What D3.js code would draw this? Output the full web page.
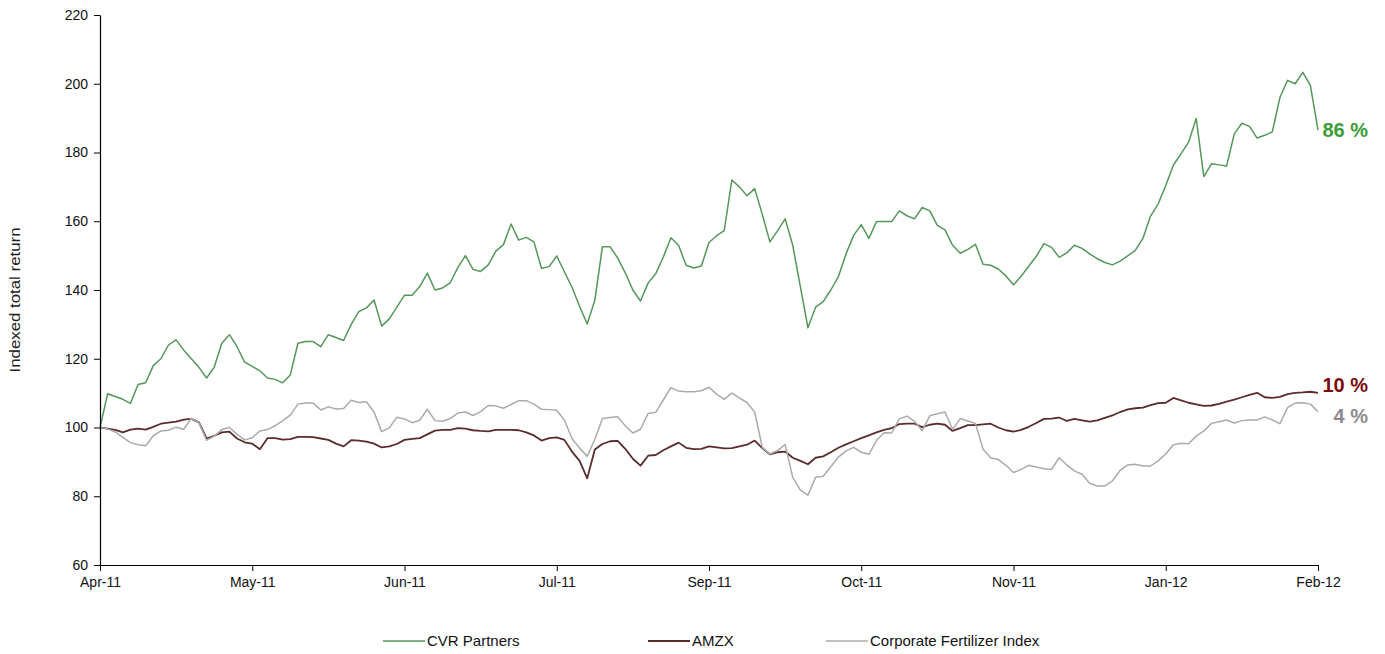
<!DOCTYPE html>
<html><head><meta charset="utf-8">
<script src="https://cdn.jsdelivr.net/npm/d3@7"></script>
<style>
body{margin:0;background:#fff;}
svg{display:block;}
text{font-family:"Liberation Sans",Arial,sans-serif;}
</style>
</head><body>
<svg id="c" width="1385" height="654"></svg>
<script>
// ---- data ----
const tickLabels = ["Apr-11","May-11","Jun-11","Jul-11","Sep-11","Oct-11","Nov-11","Jan-12","Feb-12"];
const tickEvery = 20; // points between labelled ticks
const yTicks = [60,80,100,120,140,160,180,200,220];
const seriesNames = ["CVR Partners","AMZX","Corporate Fertilizer Index"];
const endLabels = ["86 %","10 %","4 %"];

const cvr = [
100,109.8,109,108.2,107,112.5,113,118,120,124,
125.5,122.5,120,117.5,114.4,117.5,124.5,127,123.5,119,
117.8,116.5,114.4,114,113,115.3,124.5,125,125,123.5,
127,126.2,125.3,130,133.7,134.8,137.1,129.5,131.6,135,
138.5,138.5,141,144.9,140,140.6,142.1,146.5,150,146,
145.4,147.3,151.3,153.2,159.2,154.5,155.3,154,146.3,146.8,
149.9,145.3,140.8,135.3,130.1,137,152.6,152.6,149.3,145,
140,136.8,142,144.7,149.6,155.2,153,147.2,146.4,147,
153.8,155.8,157.3,172,170,167.4,169.5,162,154,157.2,
160.7,153,141,129,135,136.6,140,143.9,150.5,155.9,
159,155,159.9,159.9,159.9,163,161.6,160.7,164,163,
158.8,157.5,153,150.7,151.8,153.3,147.5,147.2,146.1,144.1,
141.5,144,146.9,149.8,153.5,152.4,149.5,150.8,153,152.1,
150.5,149.1,148,147.3,148.4,149.9,151.5,155,161.5,165,
170.4,176.3,179.6,183,189.9,173,176.7,176.4,176.1,185.4,
188.5,187.6,184.2,185,186,196,201,200,203.3,199.5,186.5];

const amzx = [
100,99.7,99.3,98.6,99.4,99.7,99.4,100.2,101.1,101.4,
101.7,102.3,102.5,101.5,96.8,97.6,98.6,98.8,96.8,95.7,
95.3,93.7,96.9,96.9,96.5,96.6,97.3,97.3,97.2,96.8,
96.4,95.3,94.5,96.3,96.2,95.9,95.3,94.2,94.5,95.2,
96.4,96.7,96.9,98,99.1,99.3,99.3,99.8,99.7,99.2,
99,98.9,99.3,99.3,99.3,99.2,98.6,97.7,96.2,96.9,
97.1,96.4,93,90.3,85.2,93.6,95.2,96,96.1,93.8,
90.9,88.9,91.8,92,93.4,94.5,95.6,94.1,93.7,93.8,
94.5,94.2,93.9,94,94.5,95,96.2,94,92.2,92.8,
93,91.2,90.3,89.3,91.2,91.6,92.8,94.1,95.1,96,
96.9,97.7,98.6,99.3,99.8,101,101.1,101.1,100.1,100.8,
101.1,100.8,99,99.8,100.7,100.7,100.9,101.1,100,99.2,
98.8,99.3,100.2,101.3,102.5,102.6,102.9,101.9,102.5,102.1,
101.7,102.1,102.8,103.5,104.5,105.3,105.6,105.8,106.5,107.1,
107.2,108.6,107.9,107.2,106.7,106.3,106.4,106.9,107.5,108.1,
108.8,109.5,110.1,108.8,108.6,108.9,109.7,110.1,110.2,110.4,110.1];

const corp = [
100,99.6,98.7,97.1,95.6,95,94.7,97.6,99,99.2,
100.1,99.5,102.7,101.4,96.3,97.5,99.4,100,98,96.4,
97,99,99.4,100.5,102,103.6,106.8,107.1,107.1,105.1,
106,105.4,105.5,107.9,107.3,107.5,104.5,98.8,99.9,103,
102.5,101.4,102.1,105.3,102,101.8,102.6,104.2,104.5,103.5,
104.6,106.4,106.3,105.6,106.7,107.8,107.8,106.8,105.3,105.2,
105,102.2,96.8,94,91.6,96.5,102.6,102.9,103.1,100.5,
98.4,99.5,104.1,104.4,108,111.6,110.6,110.4,110.4,110.7,
111.7,109.7,108.2,110,108.6,107.2,104.5,94.2,92.3,93.3,
95,85.5,81.8,80.3,85.5,85.8,88.6,91.4,93.2,94.2,
92.8,92.2,96.2,98.5,98.4,102.5,103.3,101.8,99.1,103.4,
104,104.5,99.4,102.6,101.9,101.2,93.7,91.2,90.7,89,
86.9,87.8,89,88.5,88,87.8,91.2,89.1,87.4,86.4,
83.8,83,83,84.5,87.5,89.1,89.3,88.8,88.8,90.3,
92.3,95,95.4,95.3,97.5,99,101.2,101.7,102.2,101.3,
102,102.2,102.2,103.1,102.2,101.1,105.8,107.1,107.2,106.8,104.6];

// ---- chart ----
const svg = d3.select("#c");
const mLeft = 100, mRight = 1318, mTop = 15, mBottom = 565;
const n = cvr.length;
const x = d3.scaleLinear().domain([0, n - 1]).range([mLeft, mRight]);
const y = d3.scaleLinear().domain([60, 220]).range([mBottom, mTop]);

const lineColors = ["#55975a", "#5a2c2c", "#ababab"];
const lineWidths = [1.5, 1.8, 1.5];
const labelColors = ["#3a9d3a", "#7a0a0a", "#8c8c8c"];
const labelShift = [0, -7.5, 4];
const data = [cvr, amzx, corp];

const line = d3.line().x((d, i) => x(i)).y(d => y(d));

data.forEach((s, k) => {
  svg.append("path").datum(s)
    .attr("fill", "none")
    .attr("stroke", lineColors[k])
    .attr("stroke-width", lineWidths[k])
    .attr("stroke-linejoin", "round")
    .attr("d", line);
});

// axes
const tickIdx = tickLabels.map((_, i) => i * tickEvery);
const xAxis = d3.axisBottom(x).tickValues(tickIdx)
  .tickFormat((d, i) => tickLabels[i]).tickSize(6).tickPadding(6).tickSizeOuter(0);
const gx = svg.append("g").attr("transform", `translate(0,${mBottom})`).call(xAxis);
const yAxis = d3.axisLeft(y).tickValues(yTicks).tickSize(6).tickPadding(6).tickSizeOuter(0);
const gy = svg.append("g").attr("transform", `translate(${mLeft},0)`).call(yAxis);
[gx, gy].forEach(g => {
  g.select(".domain").attr("stroke", "#000").attr("stroke-width", 1.2);
  g.selectAll(".tick line").attr("stroke", "#000");
  g.selectAll("text").attr("font-size", 14).attr("fill", "#111")
    .attr("font-family", '"Liberation Sans",Arial,sans-serif');
});

// y title
svg.append("text")
  .attr("transform", "translate(20,300) rotate(-90)")
  .attr("text-anchor", "middle")
  .attr("font-size", 14).attr("fill", "#222")
  .attr("textLength", 145).attr("lengthAdjust", "spacingAndGlyphs")
  .text("Indexed total return");

// end labels
data.forEach((s, k) => {
  svg.append("text")
    .attr("x", 1368).attr("y", y(s[n - 1]) + labelShift[k])
    .attr("dy", "0.36em")
    .attr("text-anchor", "end")
    .attr("font-size", 20).attr("font-weight", "bold")
    .attr("fill", labelColors[k])
    .text(endLabels[k]);
});

// legend
const legX = [383, 648, 826];
const legY = 641;
seriesNames.forEach((name, k) => {
  svg.append("line")
    .attr("x1", legX[k]).attr("x2", legX[k] + 42)
    .attr("y1", legY).attr("y2", legY)
    .attr("stroke", lineColors[k]).attr("stroke-width", lineWidths[k]);
  svg.append("text")
    .attr("x", legX[k] + 44).attr("y", legY).attr("dy", "0.35em")
    .attr("font-size", 15).attr("fill", "#111")
    .text(name);
});
</script>
</body></html>
